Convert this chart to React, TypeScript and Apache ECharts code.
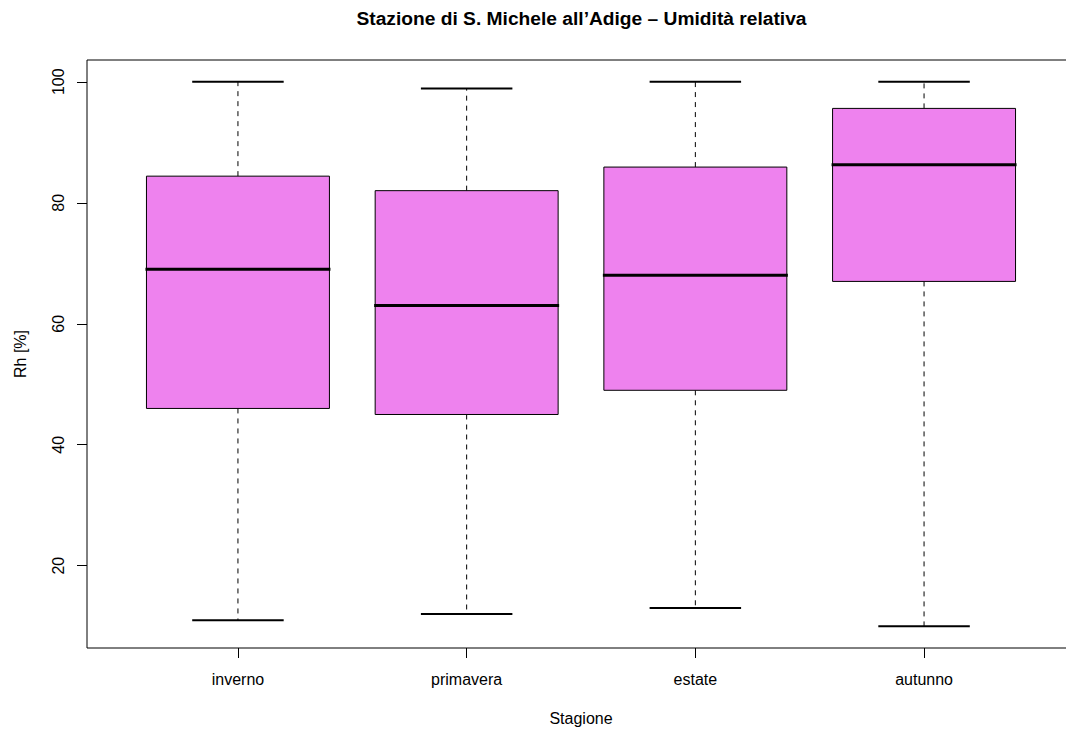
import React, { useEffect, useRef } from "react";
import * as echarts from "echarts";

const categories = ["inverno", "primavera", "estate", "autunno"];
const mins = [11, 12, 13, 10];
const q1s = [46, 45, 49, 67];
const medians = [69, 63, 68, 86.3];
const q3s = [84.4, 82, 85.9, 95.6];
const maxs = [100, 98.9, 100, 100];
const yTicks = [20, 40, 60, 80, 100];
const xTicks = [1, 2, 3, 4];

const titleText = "Stazione di S. Michele all\u2019Adige \u2013 Umidit\u00e0 relativa";
const xName = "Stagione";
const yName = "Rh [%]";

const FONT = "Liberation Sans, Arial, Helvetica, sans-serif";

export default function App() {
  const ref = useRef<HTMLDivElement>(null);
  useEffect(() => {
    if (!ref.current) return;
    const chart = echarts.init(ref.current, null, { renderer: "svg" });
    const data = categories.map((_, i) => [i + 1, mins[i], q1s[i], medians[i], q3s[i], maxs[i]]);
    chart.setOption({
      animation: false,
      backgroundColor: "#ffffff",
      grid: {
        left: 87,
        top: 60,
        width: 988,
        height: 588,
        outerBoundsMode: "none",
        containLabel: false,
        show: true,
        borderColor: "#000",
        borderWidth: 1,
        backgroundColor: "transparent",
      },
      xAxis: {
        type: "value",
        min: 0.34,
        max: 4.66,
        splitLine: { show: false },
        axisLine: { show: false },
        axisTick: { show: true, length: 10, customValues: xTicks, lineStyle: { color: "#000" } },
        axisLabel: {
          customValues: xTicks,
          formatter: (v: number) => categories[Math.round(v) - 1] ?? "",
          margin: 23,
          color: "#000",
          fontSize: 16,
          fontFamily: FONT,
        },
      },
      yAxis: {
        type: "value",
        min: 6.4,
        max: 103.6,
        splitLine: { show: false },
        axisLine: { show: false },
        axisTick: { show: true, length: 10, customValues: yTicks, lineStyle: { color: "#000" } },
        axisLabel: {
          customValues: yTicks,
          rotate: 90,
          margin: 21,
          color: "#000",
          fontSize: 16,
          fontFamily: FONT,
        },
      },
      graphic: [
        {
          type: "text",
          x: 581.5,
          y: 18.5,
          style: {
            text: titleText,
            fill: "#000",
            font: `bold 19.2px ${FONT}`,
            textAlign: "center",
            textVerticalAlign: "middle",
          },
        },
        {
          type: "text",
          x: 581,
          y: 718,
          style: {
            text: xName,
            fill: "#000",
            font: `16px ${FONT}`,
            textAlign: "center",
            textVerticalAlign: "middle",
          },
        },
        {
          type: "text",
          x: 20,
          y: 354,
          rotation: Math.PI / 2,
          style: {
            text: yName,
            fill: "#000",
            font: `16px ${FONT}`,
            textAlign: "center",
            textVerticalAlign: "middle",
          },
        },
      ],
      series: [
        {
          type: "custom",
          data,
          encode: { x: 0, y: [1, 2, 3, 4, 5] },
          renderItem: (params: any, api: any) => {
            const x = api.value(0);
            const cx = api.coord([x, api.value(1)])[0];
            const yMin = api.coord([x, api.value(1)])[1];
            const yQ1 = api.coord([x, api.value(2)])[1];
            const yMed = api.coord([x, api.value(3)])[1];
            const yQ3 = api.coord([x, api.value(4)])[1];
            const yMax = api.coord([x, api.value(5)])[1];
            const bw = api.size([0.8, 0])[0];
            const cw = bw / 2;
            const dash = { stroke: "#000", lineWidth: 1, lineDash: [5, 5] };
            const cap = { stroke: "#000", lineWidth: 2 };
            return {
              type: "group",
              children: [
                { type: "line", shape: { x1: cx, y1: yQ1, x2: cx, y2: yMin }, style: dash },
                { type: "line", shape: { x1: cx, y1: yQ3, x2: cx, y2: yMax }, style: dash },
                { type: "line", shape: { x1: cx - cw / 2, y1: yMin, x2: cx + cw / 2, y2: yMin }, style: cap },
                { type: "line", shape: { x1: cx - cw / 2, y1: yMax, x2: cx + cw / 2, y2: yMax }, style: cap },
                {
                  type: "rect",
                  shape: { x: cx - bw / 2, y: yQ3, width: bw, height: yQ1 - yQ3 },
                  style: { fill: "#EE82EE", stroke: "#000", lineWidth: 1 },
                },
                {
                  type: "line",
                  shape: { x1: cx - bw / 2 - 1, y1: yMed, x2: cx + bw / 2 + 1, y2: yMed },
                  style: { stroke: "#000", lineWidth: 3 },
                },
              ],
            };
          },
        },
      ],
    });
    return () => chart.dispose();
  }, []);
  return (
    <div
      ref={ref}
      style={{ position: "absolute", left: 0, top: 0, width: 1066, height: 731 }}
    />
  );
}
